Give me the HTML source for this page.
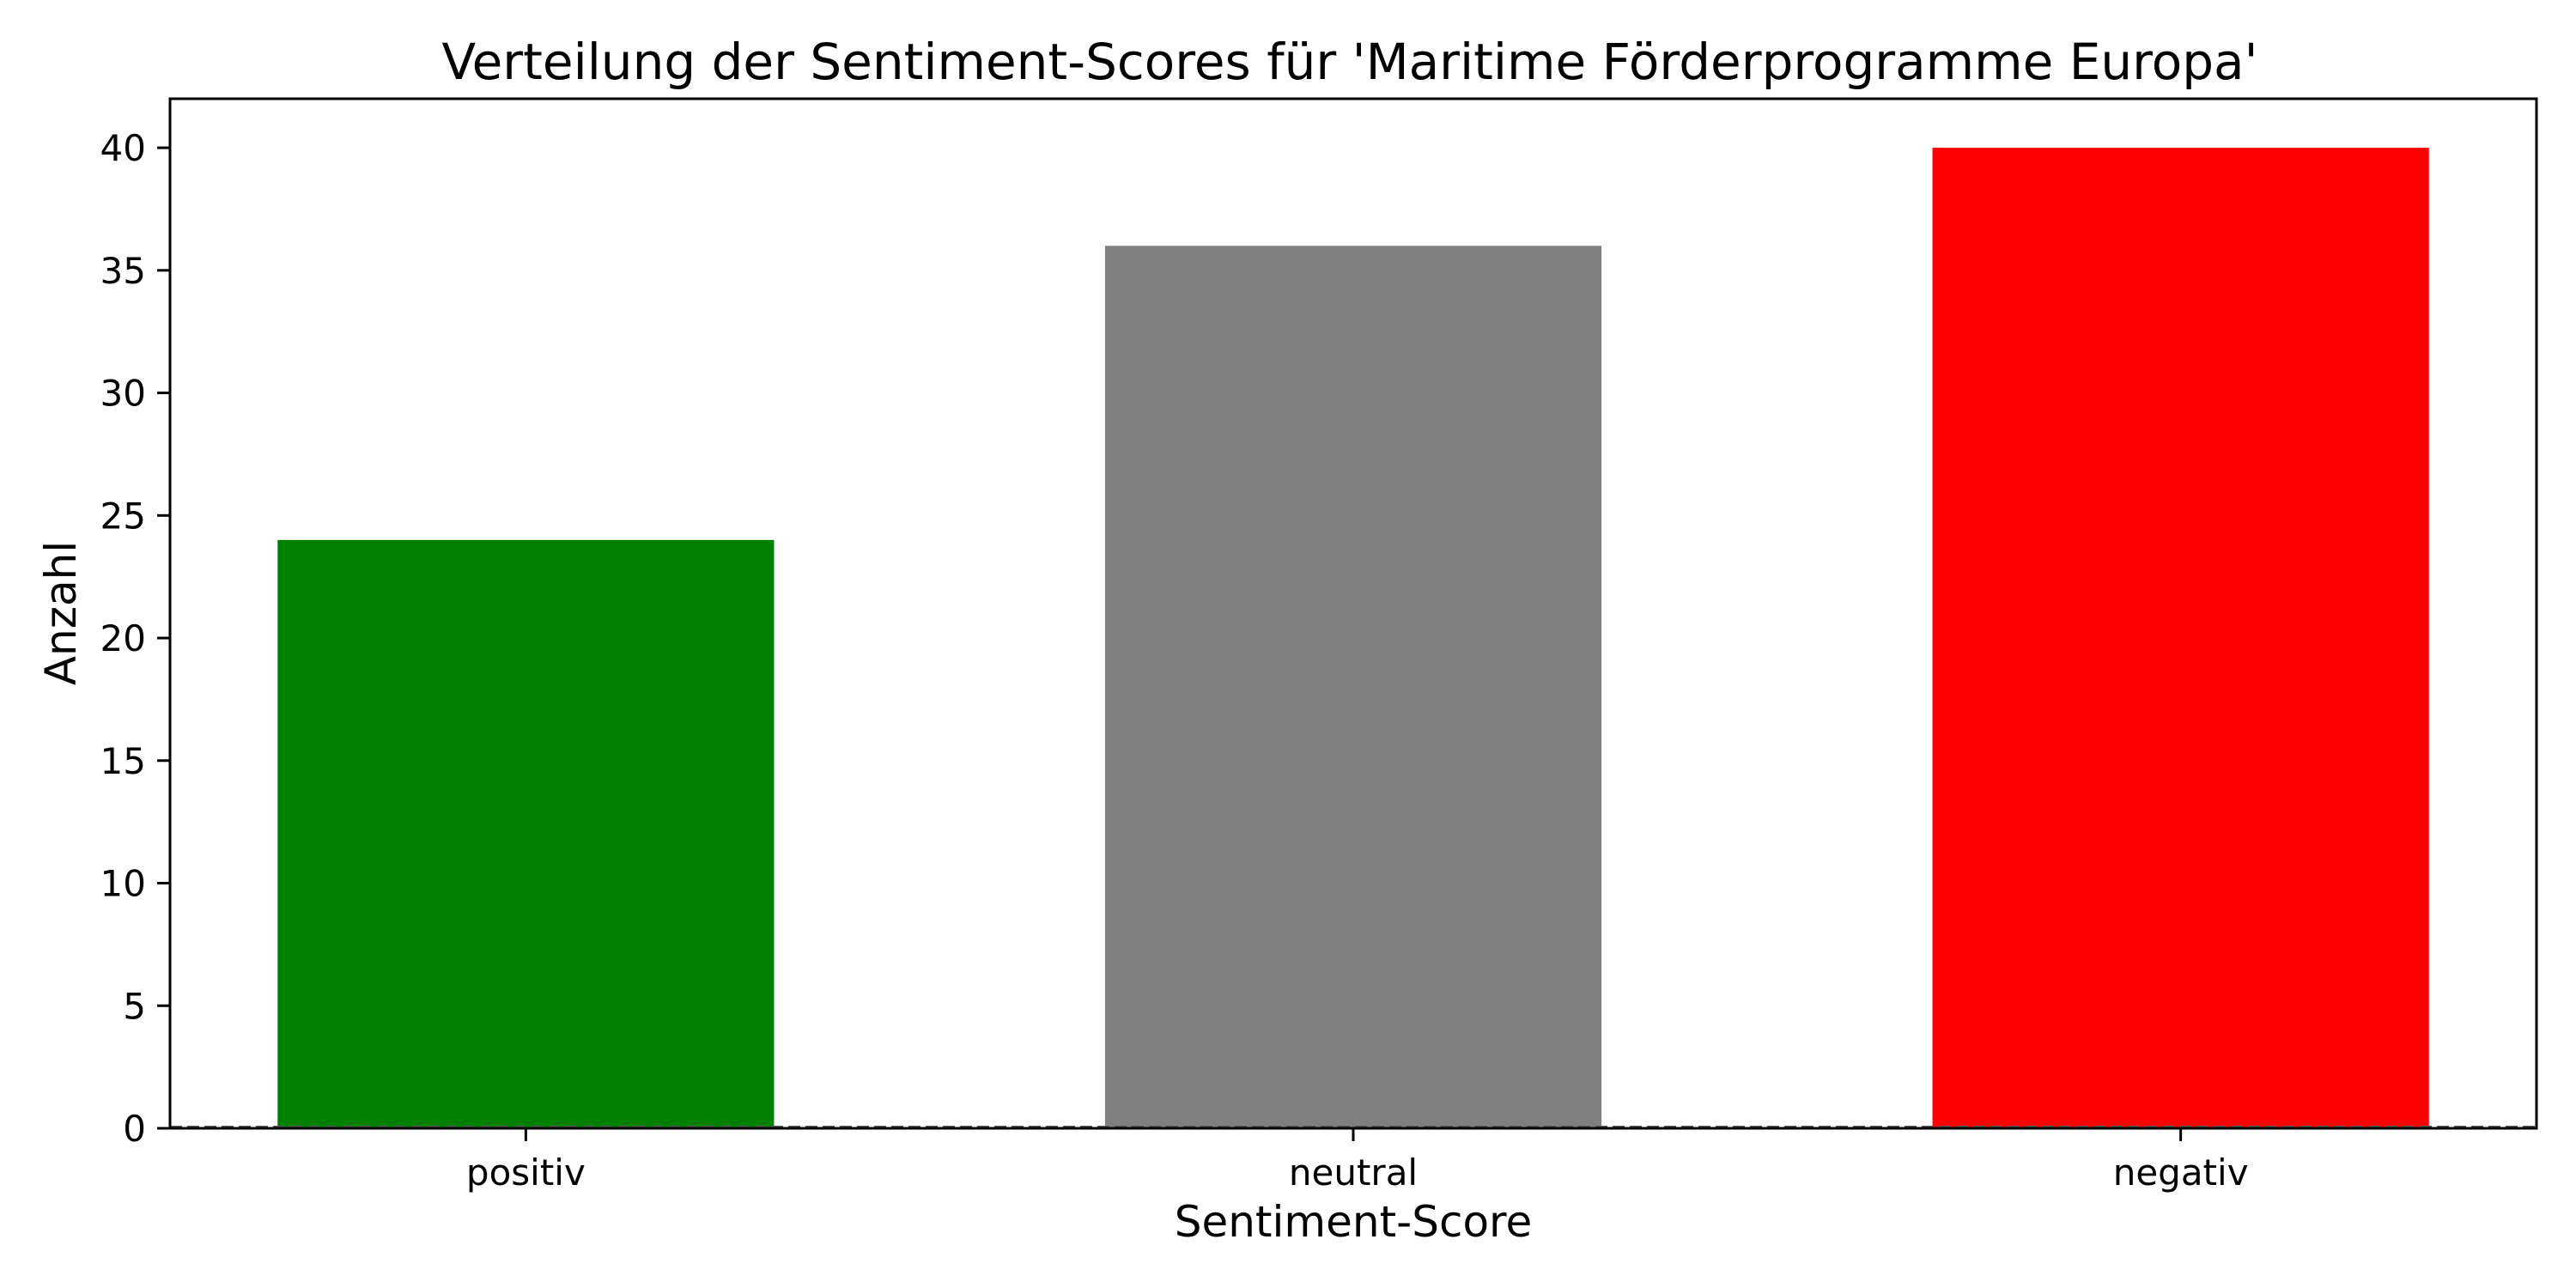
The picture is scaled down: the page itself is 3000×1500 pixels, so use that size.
<!DOCTYPE html>
<html><head><meta charset="utf-8"><style>
html,body{margin:0;padding:0;background:#fff;}
svg{display:block;font-family:"DejaVu Sans","Liberation Sans",sans-serif;}
</style></head><body>
<svg id="chart" width="3000" height="1500" viewBox="0 0 3000 1500" xmlns="http://www.w3.org/2000/svg">
<rect width="3000" height="1500" fill="#fff"/>
<text x="1572" y="92" font-size="58" text-anchor="middle">Verteilung der Sentiment-Scores für 'Maritime Förderprogramme Europa'</text>
<g id="plot"></g>
<text x="1576" y="1440" font-size="50" text-anchor="middle">Sentiment-Score</text>
<text transform="translate(88,714) rotate(-90)" font-size="50" text-anchor="middle">Anzahl</text>
</svg>
<script>
const categories = ["positiv", "neutral", "negativ"];
const counts = [24, 36, 40];
const barColors = ["#008000", "#808080", "#ff0000"];
const yTicks = [0, 5, 10, 15, 20, 25, 30, 35, 40];

const L = 198, R = 2954, T = 115, B = 1314;
const xMin = -0.43, xMax = 2.43, yMax = 42;
const xs = v => L + (v - xMin) / (xMax - xMin) * (R - L);
const ys = v => B - v / yMax * (B - T);
const NS = "http://www.w3.org/2000/svg";
const g = document.getElementById("plot");
function mk(tag, attrs) { const e = document.createElementNS(NS, tag); for (const k in attrs) e.setAttribute(k, attrs[k]); g.appendChild(e); return e; }

categories.forEach((c, i) => {
  const x0 = xs(i - 0.3), x1 = xs(i + 0.3);
  const r = mk("rect", {x: x0, y: ys(counts[i]), width: x1 - x0, height: ys(0) - ys(counts[i]), fill: barColors[i]});
  
  
  const t = mk("line", {x1: xs(i), x2: xs(i), y1: B, y2: B + 15, stroke: "#000", "stroke-width": 3});
  
  
  const lb = mk("text", {x: xs(i), y: 1380, "font-size": 42, "text-anchor": "middle"});
  lb.textContent = c;
  
  
});
yTicks.forEach(v => {
  const t = mk("line", {x1: L - 15, x2: L, y1: ys(v), y2: ys(v), stroke: "#000", "stroke-width": 3});
  
  
  const lb = mk("text", {x: L - 28, y: ys(v) + 15, "font-size": 42, "text-anchor": "end"});
  lb.textContent = v;
  
  
});
const zl = mk("line", {x1: L, x2: R, y1: ys(0) - 2, y2: ys(0) - 2, stroke: "#555", "stroke-width": 2, "stroke-dasharray": "14 6"});


const fr = mk("rect", {x: L, y: T, width: R - L, height: B - T, fill: "none", stroke: "#000", "stroke-width": 3});


</script>
</body></html>
